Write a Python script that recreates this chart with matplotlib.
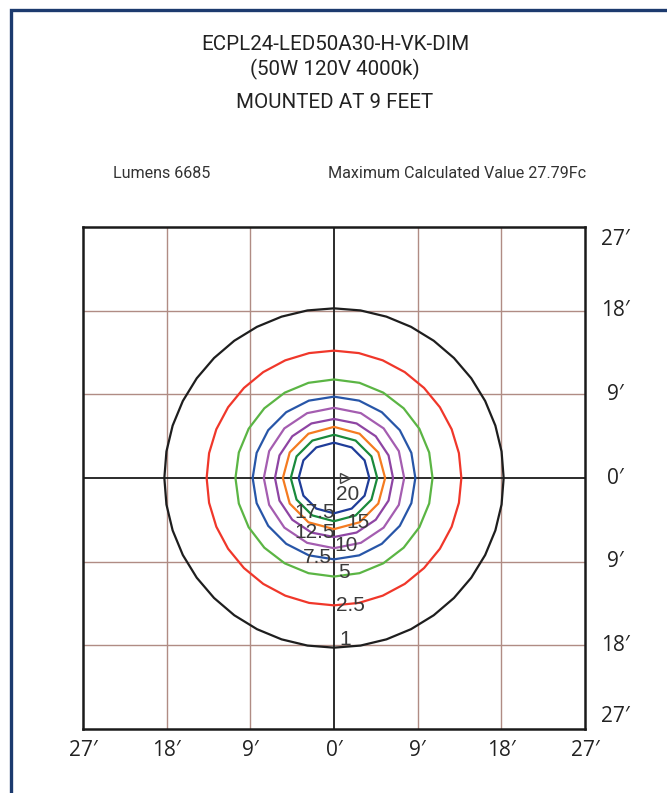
import numpy as np
import matplotlib
matplotlib.use("Agg")
import matplotlib.pyplot as plt
from matplotlib.patches import RegularPolygon, Rectangle

# iso-footcandle lines (radius in feet)
levels = [1, 2.5, 5, 7.5, 10, 12.5, 15, 17.5, 20]
radii_ft = [18.25, 13.7, 10.6, 8.75, 7.55, 6.35, 5.5, 4.65, 3.8]
level_labels = ["1", "2.5", "5", "7.5", "10", "12.5", "15", "17.5", "20"]
max_point = (1.2, 0.0)

tick_pos = [-27, -18, -9, 0, 9, 18, 27]
tick_labels = ["27\u2032", "18\u2032", "9\u2032", "0\u2032", "9\u2032", "18\u2032", "27\u2032"]

title_lines = ["ECPL24-LED50A30-H-VK-DIM", "(50W 120V 4000k)", "MOUNTED AT 9 FEET"]
lumens_text = "Lumens 6685"
max_text = "Maximum Calculated Value 27.79Fc"

# styling
colors = ["#1e1e1e", "#f0372a", "#5bb544", "#2856a8", "#a45db0",
          "#8e45a3", "#f47b20", "#1a8a3c", "#1f3d99"]
n_sides = [40, 32, 24, 20, 16, 16, 12, 12, 12]
label_xy = [(1.2, -17.4), (1.75, -13.75), (1.1, -10.2), (-1.75, -8.55),
            (1.3, -7.25), (-2.05, -5.85), (2.6, -4.8), (-2.05, -3.7), (1.45, -1.75)]

W, H = 667, 793
fig = plt.figure(figsize=(W / 100, H / 100), dpi=100)
fig.patch.set_facecolor("white")

# navy frame, runs off the right and bottom edges
fig.patches.append(Rectangle((11 / W, -0.1), 1.2, 1 - 10 / H + 0.1, transform=fig.transFigure,
                             fill=False, edgecolor="#1c3a6e", linewidth=2.4))

tfont = ["Roboto", "DejaVu Sans"]
kfont = ["Open Sans", "DejaVu Sans"]
fig.text(335 / W, 1 - 45 / H, title_lines[0], ha="center", va="center", fontsize=14.8,
         family=tfont, color="#222222")
fig.text(335 / W, 1 - 69 / H, title_lines[1], ha="center", va="center", fontsize=14.8,
         family=tfont, color="#222222")
fig.text(335 / W, 1 - 103 / H, title_lines[2], ha="center", va="center", fontsize=14.8,
         family=tfont, color="#222222")
fig.text(113 / W, 1 - 173 / H, lumens_text, ha="left", va="center", fontsize=11.6,
         family=tfont, color="#333333")
fig.text(586 / W, 1 - 173 / H, max_text, ha="right", va="center", fontsize=11.6,
         family=tfont, color="#333333")

ax = fig.add_axes([83 / W, 1 - 729 / H, 502 / W, 502 / H])
ax.set_xlim(-27, 27)
ax.set_ylim(-27, 27)

for g in [-18, -9, 9, 18]:
    ax.axvline(g, color="#b08c84", lw=1.0, zorder=1)
    ax.axhline(g, color="#b08c84", lw=1.0, zorder=1)
ax.axvline(0, color="#1a1a1a", lw=1.3, zorder=1)
ax.axhline(0, color="#1a1a1a", lw=1.3, zorder=1)

for r, c, n in zip(radii_ft, colors, n_sides):
    ax.add_patch(RegularPolygon((0, 0), numVertices=n, radius=r, orientation=0,
                                fill=False, edgecolor=c, linewidth=1.6, zorder=3))

lfont = ["Liberation Sans Narrow", "Liberation Sans", "DejaVu Sans"]
for lab, (x, y) in zip(level_labels, label_xy):
    ax.text(x, y, lab, ha="center", va="center", fontsize=15, family=lfont,
            color="#3a3a3a", zorder=4)

ax.plot(*max_point, marker=">", markersize=7, markerfacecolor="none",
        markeredgecolor="#444444", markeredgewidth=1.0, zorder=4)

for s in ax.spines.values():
    s.set_linewidth(1.8)
    s.set_color("#1a1a1a")

ax.set_xticks(tick_pos)
ax.set_xticklabels(tick_labels, fontsize=15, family=kfont, color="#222222")
ax.tick_params(axis="x", length=0, pad=8)
ax.set_yticks([])

# labels on the right side
for p, lab in zip(tick_pos, tick_labels):
    if p == 27:
        ax.text(30.3, 26.8, lab, ha="center", va="top", fontsize=15, family=kfont,
                color="#222222", clip_on=False)
    elif p == -27:
        ax.text(30.3, -26.8, lab, ha="center", va="bottom", fontsize=15, family=kfont,
                color="#222222", clip_on=False)
    else:
        ax.text(30.3, p, lab, ha="center", va="center", fontsize=15, family=kfont,
                color="#222222", clip_on=False)

fig.savefig("out.png", dpi=100)
